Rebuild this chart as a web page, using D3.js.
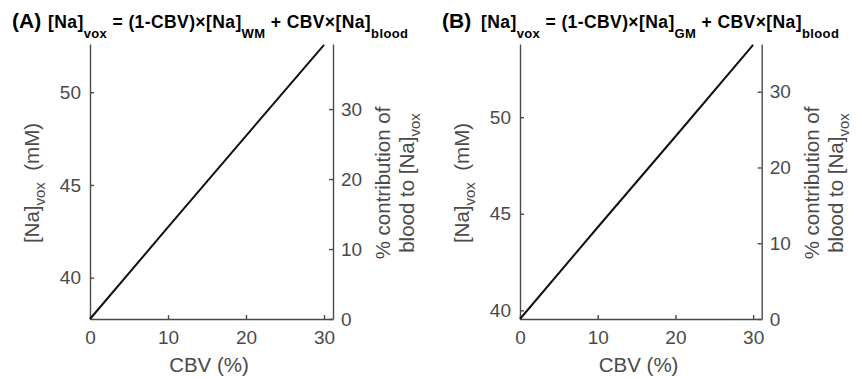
<!DOCTYPE html>
<html>
<head>
<meta charset="utf-8">
<script src="https://cdn.jsdelivr.net/npm/d3@7"></script>
<style>
  body { margin: 0; background: #fff; }
  svg { display: block; font-family: "Liberation Sans", Arial, Helvetica, sans-serif; }
  .axis path, .axis line { stroke: #4a4a4a; stroke-width: 1.4; }
  .axis text { fill: #4a4a4a; font-size: 19px; }
  .label { fill: #4a4a4a; font-size: 20.5px; }
  .title { fill: #000; font-weight: bold; }
</style>
</head>
<body>
<svg width="857" height="379"></svg>
<script>
// values
const cbv = [0, 10, 20, 30];
const naWM = [37.77, 42.72, 47.65, 52.55];
const naGM = [39.55, 44.3, 49.0, 53.74];
const xTicks = [0, 10, 20, 30];
const naTicks = [40, 45, 50];
const pctTicks = [0, 10, 20, 30];

const panels = [
  { letter: "(A)", tissue: "WM", values: naWM, left: 90, right: 333,
    xMax: 31.15, yDomain: [37.77, 52.6], pctMax: 39.3, letterX: 12, eqX: 48 },
  { letter: "(B)", tissue: "GM", values: naGM, left: 520, right: 761.7,
    xMax: 31.1, yDomain: [39.55, 53.79], pctMax: 36.3, letterX: 442, eqX: 481 }
];

const plotTop = 44, plotBottom = 319;
const svg = d3.select("svg");

panels.forEach(p => {
  const x = d3.scaleLinear().domain([0, p.xMax]).range([p.left, p.right]);
  const y = d3.scaleLinear().domain(p.yDomain).range([plotBottom, plotTop]);
  const y2 = d3.scaleLinear().domain([0, p.pctMax]).range([plotBottom, plotTop]);

  svg.append("g")
      .attr("class", "axis")
      .attr("transform", "translate(0," + plotBottom + ")")
      .call(d3.axisBottom(x).tickValues(xTicks).tickSizeInner(-4).tickSizeOuter(0).tickPadding(12))
      .call(g => g.selectAll("text").attr("dy", "0.71em"));

  svg.append("g")
      .attr("class", "axis")
      .attr("transform", "translate(" + p.left + ",0)")
      .call(d3.axisLeft(y).tickValues(naTicks).tickSizeInner(-4).tickSizeOuter(0).tickPadding(9));

  svg.append("g")
      .attr("class", "axis")
      .attr("transform", "translate(" + p.right + ",0)")
      .call(d3.axisRight(y2).tickValues(pctTicks).tickSizeInner(-4).tickSizeOuter(0).tickPadding(8));

  svg.selectAll(".axis path.domain").attr("fill", "none");

  const line = d3.line()
      .x((d, i) => x(cbv[i]))
      .y(d => y(d));

  svg.append("path")
      .datum(p.values)
      .attr("fill", "none")
      .attr("stroke", "#111")
      .attr("stroke-width", 2)
      .attr("d", line);

  // x label
  svg.append("text")
      .attr("class", "label")
      .attr("x", (p.left + x(30)) / 2 + 2)
      .attr("y", 372)
      .attr("text-anchor", "middle")
      .text("CBV (%)");

  // left y label
  const yl = svg.append("text")
      .attr("class", "label")
      .attr("text-anchor", "middle")
      .attr("transform", "translate(" + (p.left - 51) + ",183) rotate(-90)");
  yl.append("tspan").text("[Na]");
  yl.append("tspan").attr("font-size", "15px").attr("dy", 6).text("vox");
  yl.append("tspan").attr("dy", -6).text("\u00a0\u00a0(mM)");

  // right y label
  const yr = svg.append("g")
      .attr("transform", "translate(" + (p.right + 57) + ",183) rotate(-90)");
  yr.append("text").attr("class", "label").attr("text-anchor", "middle").text("% contribution of");
  const l2 = yr.append("text").attr("class", "label").attr("text-anchor", "middle").attr("y", 24);
  l2.append("tspan").text("blood to [Na]");
  l2.append("tspan").attr("font-size", "15px").attr("dy", 6).text("vox");

  // title
  svg.append("text")
      .attr("class", "title")
      .attr("x", p.letterX).attr("y", 28)
      .attr("font-size", "21px")
      .text(p.letter);
  const t = svg.append("text")
      .attr("class", "title")
      .attr("x", p.eqX).attr("y", 28)
      .attr("font-size", "17.5px")
      .attr("letter-spacing", "0.4px");
  const parts = [
    ["[Na]", 0], ["vox", 1], [" = (1-CBV)\u00d7[Na]", 0], [p.tissue, 1],
    [" + CBV\u00d7[Na]", 0], ["blood", 1]
  ];
  let sub = false;
  parts.forEach(([s, isSub]) => {
    const ts = t.append("tspan").text(s);
    if (isSub) ts.attr("font-size", "13px");
    if (isSub && !sub) { ts.attr("dy", 10); sub = true; }
    else if (!isSub && sub) { ts.attr("dy", -10); sub = false; }
  });
});
</script>
</body>
</html>
